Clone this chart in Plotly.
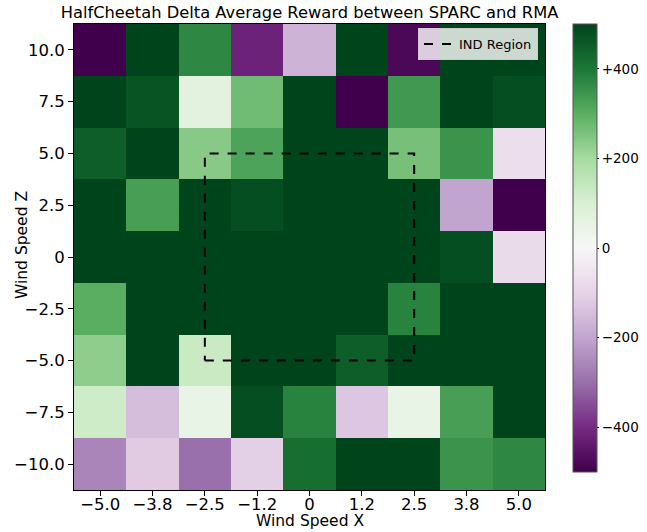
import plotly.graph_objects as go

x_vals = [-5.0, -3.75, -2.5, -1.25, 0.0, 1.25, 2.5, 3.75, 5.0]
x_labels = ["\u22125.0", "\u22123.8", "\u22122.5", "\u22121.2", "0", "1.2", "2.5", "3.8", "5.0"]
y_vals = [-10.0, -7.5, -5.0, -2.5, 0.0, 2.5, 5.0, 7.5, 10.0]
y_labels = ["\u221210.0", "\u22127.5", "\u22125.0", "\u22122.5", "0", "2.5", "5.0", "7.5", "10.0"]

# rows from y=-10 (bottom) to y=10 (top)
z_vals = [
    [-260, -120, -300, -110, 420, 500, 500, 350, 370],    # -10.0
    [120, -150, 50, 480, 380, -130, 50, 330, 500],        # -7.5
    [230, 500, 130, 500, 500, 450, 500, 500, 500],        # -5.0
    [300, 500, 500, 500, 500, 500, 380, 500, 500],        # -2.5
    [500, 500, 500, 500, 500, 500, 500, 480, -80],        # 0
    [500, 330, 500, 480, 500, 500, 500, -200, -500],      # 2.5
    [450, 500, 240, 320, 500, 500, 260, 350, -70],        # 5.0
    [500, 470, 70, 270, 500, -500, 340, 500, 480],        # 7.5
    [-500, 500, 370, -420, -170, 500, -480, 500, 500],    # 10.0
]

ind_x = [-2.5, 2.5, 2.5, -2.5, -2.5]
ind_y = [-5.0, -5.0, 5.0, 5.0, -5.0]

cb_ticks = [400, 200, 0, -200, -400]
cb_labels = ["+400", "+200", "0", "\u2212200", "\u2212400"]

prgn = [
    [0.0, "#40004b"], [0.1, "#762a83"], [0.2, "#9970ab"], [0.3, "#c2a5cf"],
    [0.4, "#e7d4e8"], [0.5, "#f7f7f7"], [0.6, "#d9f0d3"], [0.7, "#a6dba0"],
    [0.8, "#5aae61"], [0.9, "#1b7837"], [1.0, "#00441b"],
]

font = "DejaVu Sans"
W, H = 647, 532
L, R, T, B = 74, 102, 24, 42
PW, PH = W - L - R, H - T - B

fig = go.Figure()
fig.add_trace(go.Heatmap(
    x=x_vals, y=y_vals, z=z_vals,
    colorscale=prgn, zmin=-500, zmax=500,
    showscale=True,
    colorbar=dict(
        x=(573 - L) / PW, xanchor="left",
        y=(H - B - 248) / PH, yanchor="middle",
        len=448, lenmode="pixels",
        thickness=24, thicknessmode="pixels",
        outlinewidth=1, outlinecolor="#555555",
        tickvals=cb_ticks, ticktext=cb_labels,
        ticks="outside", ticklen=2, tickcolor="black",
        tickfont=dict(family=font, size=13.5, color="black"),
        xpad=0, ypad=0,
    ),
    showlegend=False,
))
fig.add_trace(go.Scatter(
    x=ind_x, y=ind_y, mode="lines",
    line=dict(color="black", width=2, dash="dash"),
    name="IND Region", showlegend=True,
))

fig.update_layout(
    width=W, height=H,
    margin=dict(l=L, r=R, t=T, b=B, autoexpand=False),
    paper_bgcolor="white", plot_bgcolor="white",
    title=dict(text="HalfCheetah Delta Average Reward between SPARC and RMA",
               x=(L + PW / 2) / W, xanchor="center", y=1 - 12 / H, yanchor="middle",
               font=dict(family=font, size=16.3, color="black")),
    font=dict(family=font, color="black"),
    legend=dict(x=(538 - L) / PW, y=(H - B - 28) / PH, xanchor="right", yanchor="top",
                bgcolor="rgba(255,255,255,0.8)", bordercolor="#cccccc", borderwidth=1,
                tracegroupgap=0, itemwidth=30,
                font=dict(family=font, size=13, color="black")),
    xaxis=dict(
        range=[-5.625, 5.625], tickvals=x_vals, ticktext=x_labels, automargin=False,
        showgrid=False, zeroline=False, showline=True, linecolor="black", linewidth=1,
        mirror=True, ticks="outside", ticklen=5, tickcolor="black",
        ticklabelstandoff=-6,
        tickfont=dict(family=font, size=16.5, color="black"),
    ),
    yaxis=dict(
        range=[-11.25, 11.25], tickvals=y_vals, ticktext=y_labels, automargin=False,
        showgrid=False, zeroline=False, showline=True, linecolor="black", linewidth=1,
        mirror=True, ticks="outside", ticklen=5, tickcolor="black",
        tickfont=dict(family=font, size=16.5, color="black"),
    ),
    annotations=[
        dict(text="Wind Speed X", xref="paper", yref="paper",
             x=0.5, y=(H - B - 521) / PH, xanchor="center", yanchor="middle",
             showarrow=False, font=dict(family=font, size=15.5, color="black")),
        dict(text="Wind Speed Z", xref="paper", yref="paper", textangle=-90,
             x=(22 - L) / PW, y=(H - B - 245) / PH, xanchor="center", yanchor="middle",
             showarrow=False, font=dict(family=font, size=15.5, color="black")),
    ],
)

fig.write_html("out.html", config={"displayModeBar": False},
               post_script="document.body.style.margin='0px';")
